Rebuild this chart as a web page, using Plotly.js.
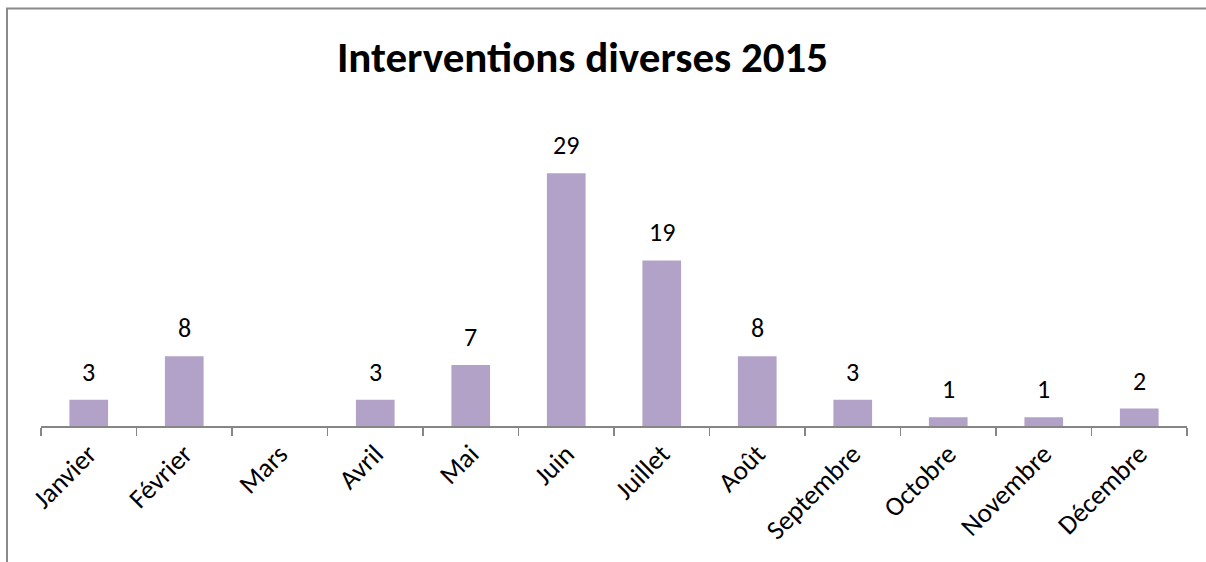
<!DOCTYPE html>
<html>
<head>
<meta charset="utf-8">
<script src="https://cdn.plot.ly/plotly-3.0.1.min.js"></script>
<style>
html,body{margin:0;padding:0;background:#fff;}
#chart{width:1206px;height:562px;}
</style>
</head>
<body>
<div id="chart"></div>
<script>
const months = ["Janvier","Février","Mars","Avril","Mai","Juin","Juillet","Août","Septembre","Octobre","Novembre","Décembre"];
const interventions = [3, 8, null, 3, 7, 29, 19, 8, 3, 1, 1, 2];
const chartTitle = "Interventions diverses 2015";

const FONT = "Carlito, 'Open Sans', sans-serif";

const annotations = [];
months.forEach((m, i) => {
  const v = interventions[i];
  if (v === null) return;
  annotations.push({
    x: m, y: v, xref: "x", yref: "y",
    text: String(v), showarrow: false,
    yanchor: "bottom", yshift: 10,
    font: {family: FONT, size: 26, color: "#000"}
  });
});

const trace = {
  type: "bar",
  x: months,
  y: interventions,
  marker: {color: "#b3a2c7"},
  hoverinfo: "x+y"
};

const layout = {
  width: 1206, height: 562,
  margin: {l: 41, r: 19, t: 121, b: 136},
  paper_bgcolor: "#fff", plot_bgcolor: "#fff",
  bargap: 0.595,
  showlegend: false,
  title: {
    text: "<b>" + chartTitle + "</b>",
    font: {family: FONT, size: 43, color: "#000"},
    xref: "container", yref: "container",
    x: 0.483, xanchor: "center",
    y: 1 - 57/562, yanchor: "middle"
  },
  xaxis: {
    type: "category",
    tickson: "boundaries",
    ticks: "outside", ticklen: 8, tickwidth: 1.5, tickcolor: "#868686",
    showline: true, linecolor: "#868686", linewidth: 1.5,
    tickangle: -45,
    tickfont: {family: FONT, size: 27, color: "#000"},
    showgrid: false, zeroline: false,
    fixedrange: true
  },
  yaxis: {
    range: [0, 35],
    visible: false,
    showgrid: false, zeroline: false,
    fixedrange: true
  },
  annotations: annotations,
  shapes: [{
    type: "path", xref: "paper", yref: "paper",
    path: "M " + ((7 - 41)/1146) + " " + (-1) + " L " + ((7 - 41)/1146) + " " + ((426 - 8.5)/305) + " L 1.2 " + ((426 - 8.5)/305),
    line: {color: "#8a8a8a", width: 2}
  }]
};

Plotly.newPlot("chart", [trace], layout, {displayModeBar: false, staticPlot: true});
</script>
</body>
</html>
